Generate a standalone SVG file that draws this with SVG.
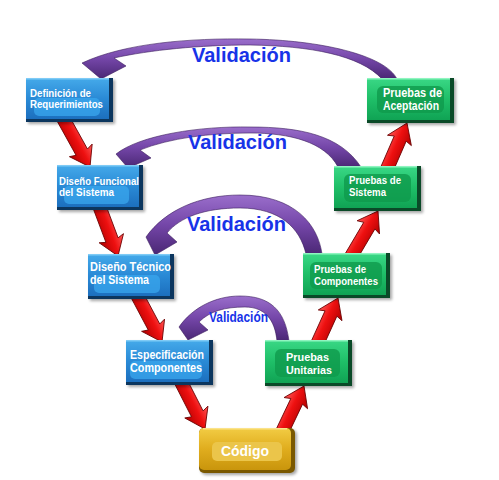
<svg xmlns="http://www.w3.org/2000/svg" width="499" height="480" viewBox="0 0 499 480">
<defs>
<linearGradient id="gBlue" x1="0" y1="0" x2="0" y2="1"><stop offset="0" stop-color="#45aaea"/><stop offset="0.5" stop-color="#2a8ad6"/><stop offset="1" stop-color="#1c6fbe"/></linearGradient>
<linearGradient id="gGreen" x1="0" y1="0" x2="0" y2="1"><stop offset="0" stop-color="#3ad886"/><stop offset="0.5" stop-color="#1fbf68"/><stop offset="1" stop-color="#10a354"/></linearGradient>
<linearGradient id="gGold" x1="0" y1="0" x2="0" y2="1"><stop offset="0" stop-color="#f2cc44"/><stop offset="0.5" stop-color="#e0ad1e"/><stop offset="1" stop-color="#c9950c"/></linearGradient>
<linearGradient id="gPurple" x1="0" y1="0" x2="0" y2="1"><stop offset="0" stop-color="#9a6ecb"/><stop offset="0.5" stop-color="#7446a8"/><stop offset="1" stop-color="#4a2774"/></linearGradient>
<linearGradient id="gRed" gradientUnits="userSpaceOnUse" x1="0" y1="-13" x2="0" y2="13"><stop offset="0" stop-color="#ff5a5a"/><stop offset="0.45" stop-color="#ee1010"/><stop offset="1" stop-color="#b00000"/></linearGradient>
<filter id="sh" x="-10%" y="-10%" width="130%" height="140%"><feGaussianBlur stdDeviation="1.5"/></filter>
<path id="ra" d="M0,0 L-19,-13 L-17,-6.5 L-58,-6.5 L-58,6.5 L-17,6.5 L-19,13 Z"/>
</defs>
<style>
.shadow{fill:#000;opacity:0.35;filter:url(#sh)}
.eB{fill:#0c365e}
.eG{fill:#0a4a28}
.eY{fill:#7a5800}
.hlB{fill:#7fcbf6}.hlG{fill:#8ff5c0}.hlY{fill:#fbe38a}
.inB{fill:#3aa7ee;opacity:0.75}
.inG{fill:#0f9a4c;opacity:0.8}
.inY{fill:#ebc54a}
.t{font-family:"Liberation Sans",Arial,sans-serif;font-weight:bold;fill:#fff;font-size:11px}
.t12{font-size:12px}
.v{font-family:"Liberation Sans",Arial,sans-serif;font-weight:bold;fill:#1733e8;font-size:20px}
.red{fill:url(#gRed);stroke:#6a0000;stroke-width:0.8}
.pur{fill:url(#gPurple);stroke:#3a1d5c;stroke-width:0.6;stroke-linejoin:miter}
</style>
<rect width="499" height="480" fill="#fff"/>

<g id="connectors">
<g id="red-arrows">
<use href="#ra" class="red" transform="translate(90,167) rotate(61)"/>
<use href="#ra" class="red" transform="translate(118,256) rotate(69.4)"/>
<use href="#ra" class="red" transform="translate(162,342) rotate(62)"/>
<use href="#ra" class="red" transform="translate(205,429) rotate(63)"/>
<use href="#ra" class="red" transform="translate(304,386) rotate(-64.5)"/>
<use href="#ra" class="red" transform="translate(338,298) rotate(-65.6)"/>
<use href="#ra" class="red" transform="translate(378,211) rotate(-59.4)"/>
<use href="#ra" class="red" transform="translate(407,123) rotate(-66.5)"/>
</g>
<g id="validation-arrows">
<path class="pur" d="M397,79 C385,55 320,40 250,39 C190,38 125,43 82,63 L101,79 L126,66 L114,58 C150,50 200,45 250,45 C310,46 360,55 382,79 Z"/>
<path class="pur" d="M361,167 C340,135 300,127 250,127 C200,126 140,135 116,154 L128,168 L151,158 L140,150 C170,138 210,133 250,133 C290,133 325,142 338,167 Z"/>
<path class="pur" d="M322,254 C318,225 295,195 240,195 C200,195 165,210 146,237 L155,255 L177,242 L167,233 C180,217 205,208 240,208 C280,208 300,228 306,254 Z"/>
<path class="pur" d="M289,341 C285,310 270,296 240,296 C215,296 192,308 179,327 L188,340 L208,330 L199,322 C210,311 225,307 245,307 C265,307 275,320 277,341 Z"/>
</g>
</g>

<g id="labels">
<text class="v" x="192" y="62">Validación</text>
<text class="v" x="188" y="149">Validación</text>
<text class="v" x="187" y="231">Validación</text>
<text class="v" x="209" y="322" style="font-size:15px" textLength="59" lengthAdjust="spacingAndGlyphs">Validación</text>
</g>

<g id="n1">
<rect class="shadow" x="28" y="80" width="87" height="44"/>
<rect class="eB" x="26" y="78" width="87" height="44"/>
<rect x="26" y="78" width="83" height="41" fill="url(#gBlue)"/>
<rect class="hlB" x="26" y="78" width="83" height="1.5"/>
<rect class="inB" x="34" y="98" width="66" height="18" rx="5"/>
<text class="t" x="30" y="97" textLength="61" lengthAdjust="spacingAndGlyphs">Definición de</text>
<text class="t" x="30" y="108" textLength="73" lengthAdjust="spacingAndGlyphs">Requerimientos</text>
</g>
<g id="n2">
<rect class="shadow" x="59" y="167" width="86" height="45"/>
<rect class="eB" x="57" y="165" width="86" height="45"/>
<rect x="57" y="165" width="82" height="42" fill="url(#gBlue)"/>
<rect class="hlB" x="57" y="165" width="82" height="1.5"/>
<rect class="inB" x="64" y="186" width="65" height="18" rx="5"/>
<text class="t" x="59" y="185" textLength="80" lengthAdjust="spacingAndGlyphs">Diseño Funcional</text>
<text class="t" x="59" y="196" textLength="55" lengthAdjust="spacingAndGlyphs">del Sistema</text>
</g>
<g id="n3">
<rect class="shadow" x="90" y="256" width="86" height="45"/>
<rect class="eB" x="88" y="254" width="86" height="45"/>
<rect x="88" y="254" width="82" height="42" fill="url(#gBlue)"/>
<rect class="hlB" x="88" y="254" width="82" height="1.5"/>
<rect class="inB" x="94" y="275" width="66" height="18" rx="5"/>
<text class="t t12" x="90" y="271" textLength="81" lengthAdjust="spacingAndGlyphs">Diseño Técnico</text>
<text class="t t12" x="90" y="284" textLength="59" lengthAdjust="spacingAndGlyphs">del Sistema</text>
</g>
<g id="n4">
<rect class="shadow" x="128" y="342" width="87" height="45"/>
<rect class="eB" x="126" y="340" width="87" height="45"/>
<rect x="126" y="340" width="83" height="42" fill="url(#gBlue)"/>
<rect class="hlB" x="126" y="340" width="83" height="1.5"/>
<rect class="inB" x="130" y="361" width="72" height="18" rx="5"/>
<text class="t t12" x="130" y="359" textLength="74" lengthAdjust="spacingAndGlyphs">Especificación</text>
<text class="t t12" x="130" y="372" textLength="72" lengthAdjust="spacingAndGlyphs">Componentes</text>
</g>
<g id="n5">
<rect class="shadow" x="201" y="430" width="96" height="45" rx="5"/>
<rect class="eY" x="199" y="428" width="96" height="45" rx="5"/>
<rect x="199" y="428" width="92" height="42" rx="5" fill="url(#gGold)"/>
<rect class="hlY" x="203" y="428" width="84" height="1.5"/>
<rect class="inY" x="212" y="442" width="70" height="19" rx="5"/>
<text class="t" x="221" y="456" style="font-size:15px" textLength="48" lengthAdjust="spacingAndGlyphs">Código</text>
</g>
<g id="n6">
<rect class="shadow" x="267" y="342" width="87" height="46"/>
<rect class="eG" x="265" y="340" width="87" height="46"/>
<rect x="265" y="340" width="83" height="43" fill="url(#gGreen)"/>
<rect class="hlG" x="265" y="340" width="83" height="1.5"/>
<rect class="inG" x="275" y="349" width="65" height="28" rx="6"/>
<text class="t" x="286" y="361" textLength="43" lengthAdjust="spacingAndGlyphs">Pruebas</text>
<text class="t" x="286" y="374" textLength="46" lengthAdjust="spacingAndGlyphs">Unitarias</text>
</g>
<g id="n7">
<rect class="shadow" x="305" y="255" width="87" height="45"/>
<rect class="eG" x="303" y="253" width="87" height="45"/>
<rect x="303" y="253" width="83" height="42" fill="url(#gGreen)"/>
<rect class="hlG" x="303" y="253" width="83" height="1.5"/>
<rect class="inG" x="310" y="262" width="72" height="27" rx="6"/>
<text class="t" x="314" y="273" textLength="52" lengthAdjust="spacingAndGlyphs">Pruebas de</text>
<text class="t" x="314" y="285" textLength="64" lengthAdjust="spacingAndGlyphs">Componentes</text>
</g>
<g id="n8">
<rect class="shadow" x="336" y="168" width="87" height="45"/>
<rect class="eG" x="334" y="166" width="87" height="45"/>
<rect x="334" y="166" width="83" height="42" fill="url(#gGreen)"/>
<rect class="hlG" x="334" y="166" width="83" height="1.5"/>
<rect class="inG" x="344" y="174" width="67" height="28" rx="6"/>
<text class="t" x="349" y="184" textLength="52" lengthAdjust="spacingAndGlyphs">Pruebas de</text>
<text class="t" x="349" y="196" textLength="37" lengthAdjust="spacingAndGlyphs">Sistema</text>
</g>
<g id="n9">
<rect class="shadow" x="369" y="80" width="87" height="45"/>
<rect class="eG" x="367" y="78" width="87" height="45"/>
<rect x="367" y="78" width="83" height="42" fill="url(#gGreen)"/>
<rect class="hlG" x="367" y="78" width="83" height="1.5"/>
<rect class="inG" x="377" y="86" width="67" height="27" rx="6"/>
<text class="t t12" x="383" y="97" textLength="59" lengthAdjust="spacingAndGlyphs">Pruebas de</text>
<text class="t t12" x="383" y="110" textLength="56" lengthAdjust="spacingAndGlyphs">Aceptación</text>
</g>
</svg>
